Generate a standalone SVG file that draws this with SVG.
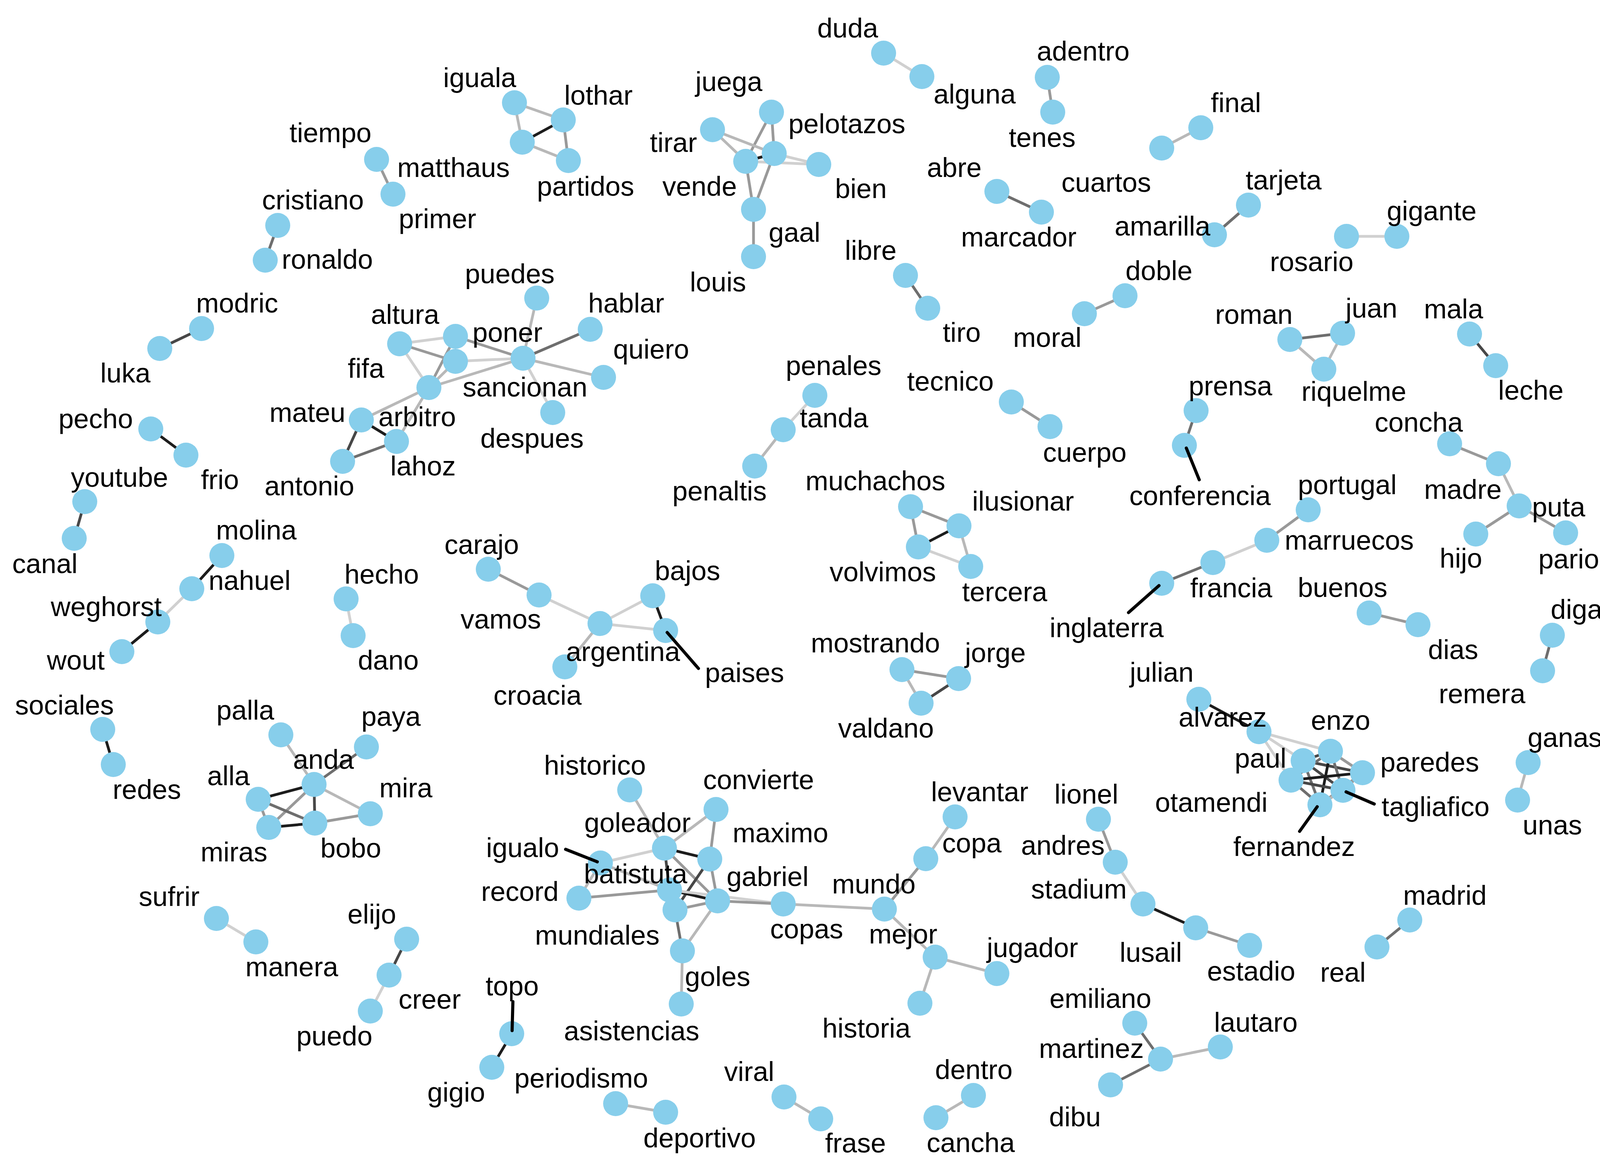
<svg xmlns="http://www.w3.org/2000/svg" width="4200" height="3000" viewBox="0 0 4200 3000">
<style>
.bg{fill:#ffffff}
line{stroke-width:7;stroke-linecap:butt}
.e1{stroke:#d0d0d0}.e2{stroke:#b8b8b8}.e3{stroke:#999999}.e4{stroke:#6e6e6e}.e5{stroke:#474747}.e6{stroke:#1c1c1c}
.ld{stroke:#000000;stroke-width:8;stroke-linecap:round}
circle{fill:#87CEEB}
text{font-family:"Liberation Sans",Arial,Helvetica,sans-serif;font-size:70px;fill:#000;text-anchor:middle}
</style>
<rect class="bg" x="0" y="0" width="4200" height="3000"/>
<g id="connectors">
<line class="e2" x1="1317" y1="263" x2="1442" y2="307"/>
<line class="e2" x1="1317" y1="263" x2="1337" y2="364"/>
<line class="e6" x1="1337" y1="364" x2="1442" y2="307"/>
<line class="e2" x1="1337" y1="364" x2="1455" y2="411"/>
<line class="e3" x1="1442" y1="307" x2="1455" y2="411"/>
<line class="e3" x1="964" y1="408" x2="1006" y2="497"/>
<line class="e4" x1="711" y1="577" x2="679" y2="666"/>
<line class="e5" x1="516" y1="841" x2="409" y2="892"/>
<line class="e3" x1="1975" y1="287" x2="1909" y2="413"/>
<line class="e3" x1="1975" y1="287" x2="1982" y2="393"/>
<line class="e2" x1="1824" y1="332" x2="1982" y2="393"/>
<line class="e2" x1="1824" y1="332" x2="1909" y2="413"/>
<line class="e6" x1="1909" y1="413" x2="1982" y2="393"/>
<line class="e1" x1="1909" y1="413" x2="2096" y2="421"/>
<line class="e1" x1="1982" y1="393" x2="2096" y2="421"/>
<line class="e3" x1="1909" y1="413" x2="1929" y2="536"/>
<line class="e3" x1="1982" y1="393" x2="1929" y2="536"/>
<line class="e3" x1="1929" y1="536" x2="1929" y2="657"/>
<line class="e1" x1="2262" y1="136" x2="2360" y2="196"/>
<line class="e3" x1="2681" y1="198" x2="2695" y2="287"/>
<line class="e4" x1="2552" y1="490" x2="2666" y2="543"/>
<line class="e2" x1="3074" y1="327" x2="2974" y2="379"/>
<line class="e4" x1="3196" y1="525" x2="3109" y2="601"/>
<line class="e1" x1="3447" y1="605" x2="3576" y2="605"/>
<line class="e3" x1="2880" y1="757" x2="2776" y2="803"/>
<line class="e4" x1="2318" y1="705" x2="2375" y2="789"/>
<line class="e4" x1="3302" y1="869" x2="3437" y2="853"/>
<line class="e2" x1="3302" y1="869" x2="3389" y2="945"/>
<line class="e2" x1="3437" y1="853" x2="3389" y2="945"/>
<line class="e5" x1="3762" y1="855" x2="3829" y2="936"/>
<line class="e2" x1="1374" y1="763" x2="1339" y2="917"/>
<line class="e4" x1="1511" y1="843" x2="1339" y2="917"/>
<line class="e2" x1="1545" y1="966" x2="1339" y2="917"/>
<line class="e1" x1="1415" y1="1056" x2="1339" y2="917"/>
<line class="e3" x1="1166" y1="861" x2="1339" y2="917"/>
<line class="e1" x1="1166" y1="925" x2="1339" y2="917"/>
<line class="e2" x1="1098" y1="992" x2="1339" y2="917"/>
<line class="e1" x1="1023" y1="880" x2="1166" y2="861"/>
<line class="e3" x1="1023" y1="880" x2="1166" y2="925"/>
<line class="e1" x1="1023" y1="880" x2="1098" y2="992"/>
<line class="e3" x1="1166" y1="861" x2="1098" y2="992"/>
<line class="e2" x1="1166" y1="925" x2="1098" y2="992"/>
<line class="e2" x1="1098" y1="992" x2="925" y2="1075"/>
<line class="e2" x1="1098" y1="992" x2="1015" y2="1130"/>
<line class="e6" x1="925" y1="1075" x2="1015" y2="1130"/>
<line class="e5" x1="925" y1="1075" x2="877" y2="1181"/>
<line class="e4" x1="877" y1="1181" x2="1015" y2="1130"/>
<line class="e1" x1="2086" y1="1012" x2="2005" y2="1100"/>
<line class="e2" x1="2005" y1="1100" x2="1932" y2="1193"/>
<line class="e3" x1="2589" y1="1029" x2="2688" y2="1092"/>
<line class="e4" x1="3062" y1="1051" x2="3032" y2="1140"/>
<line class="e3" x1="3711" y1="1136" x2="3836" y2="1187"/>
<line class="e2" x1="3836" y1="1187" x2="3889" y2="1295"/>
<line class="e3" x1="3889" y1="1295" x2="3778" y2="1367"/>
<line class="e3" x1="3889" y1="1295" x2="4008" y2="1364"/>
<line class="e6" x1="386" y1="1098" x2="476" y2="1165"/>
<line class="e5" x1="217" y1="1284" x2="190" y2="1378"/>
<line class="e6" x1="568" y1="1422" x2="491" y2="1507"/>
<line class="e1" x1="491" y1="1507" x2="404" y2="1592"/>
<line class="e6" x1="404" y1="1592" x2="312" y2="1668"/>
<line class="e1" x1="886" y1="1533" x2="904" y2="1627"/>
<line class="e3" x1="1250" y1="1457" x2="1380" y2="1523"/>
<line class="e1" x1="1380" y1="1523" x2="1536" y2="1596"/>
<line class="e1" x1="1536" y1="1596" x2="1671" y2="1525"/>
<line class="e1" x1="1536" y1="1596" x2="1704" y2="1614"/>
<line class="e6" x1="1671" y1="1525" x2="1704" y2="1614"/>
<line class="e2" x1="1536" y1="1596" x2="1446" y2="1707"/>
<line class="e3" x1="2331" y1="1297" x2="2455" y2="1346"/>
<line class="e3" x1="2331" y1="1297" x2="2351" y2="1400"/>
<line class="e6" x1="2351" y1="1400" x2="2455" y2="1346"/>
<line class="e2" x1="2455" y1="1346" x2="2485" y2="1450"/>
<line class="e1" x1="2351" y1="1400" x2="2485" y2="1450"/>
<line class="e3" x1="2309" y1="1714" x2="2454" y2="1737"/>
<line class="e2" x1="2309" y1="1714" x2="2358" y2="1800"/>
<line class="e5" x1="2454" y1="1737" x2="2358" y2="1800"/>
<line class="e3" x1="3349" y1="1305" x2="3243" y2="1383"/>
<line class="e1" x1="3243" y1="1383" x2="3105" y2="1440"/>
<line class="e4" x1="3105" y1="1440" x2="2974" y2="1493"/>
<line class="e3" x1="3505" y1="1569" x2="3630" y2="1599"/>
<line class="e4" x1="3974" y1="1626" x2="3949" y2="1717"/>
<line class="e6" x1="3069" y1="1790" x2="3223" y2="1873"/>
<line class="e1" x1="3223" y1="1873" x2="3406" y2="1923"/>
<line class="e1" x1="3223" y1="1873" x2="3336" y2="1947"/>
<line class="e1" x1="3223" y1="1873" x2="3305" y2="1997"/>
<line class="e5" x1="3336" y1="1947" x2="3406" y2="1923"/>
<line class="e5" x1="3336" y1="1947" x2="3488" y2="1978"/>
<line class="e5" x1="3336" y1="1947" x2="3438" y2="2023"/>
<line class="e4" x1="3336" y1="1947" x2="3379" y2="2060"/>
<line class="e4" x1="3336" y1="1947" x2="3305" y2="1997"/>
<line class="e3" x1="3406" y1="1923" x2="3488" y2="1978"/>
<line class="e4" x1="3406" y1="1923" x2="3438" y2="2023"/>
<line class="e6" x1="3406" y1="1923" x2="3379" y2="2060"/>
<line class="e4" x1="3406" y1="1923" x2="3305" y2="1997"/>
<line class="e6" x1="3305" y1="1997" x2="3488" y2="1978"/>
<line class="e5" x1="3305" y1="1997" x2="3438" y2="2023"/>
<line class="e4" x1="3305" y1="1997" x2="3379" y2="2060"/>
<line class="e3" x1="3488" y1="1978" x2="3438" y2="2023"/>
<line class="e3" x1="3488" y1="1978" x2="3379" y2="2060"/>
<line class="e2" x1="3438" y1="2023" x2="3379" y2="2060"/>
<line class="e2" x1="3912" y1="1952" x2="3885" y2="2048"/>
<line class="e6" x1="263" y1="1867" x2="290" y2="1957"/>
<line class="e2" x1="719" y1="1881" x2="804" y2="2008"/>
<line class="e4" x1="938" y1="1912" x2="804" y2="2008"/>
<line class="e6" x1="804" y1="2008" x2="661" y2="2046"/>
<line class="e3" x1="804" y1="2008" x2="688" y2="2118"/>
<line class="e5" x1="804" y1="2008" x2="806" y2="2107"/>
<line class="e2" x1="804" y1="2008" x2="948" y2="2083"/>
<line class="e3" x1="661" y1="2046" x2="688" y2="2118"/>
<line class="e4" x1="661" y1="2046" x2="806" y2="2107"/>
<line class="e6" x1="688" y1="2118" x2="806" y2="2107"/>
<line class="e3" x1="806" y1="2107" x2="948" y2="2083"/>
<line class="e1" x1="554" y1="2351" x2="655" y2="2411"/>
<line class="e5" x1="1041" y1="2404" x2="996" y2="2496"/>
<line class="e1" x1="996" y1="2496" x2="948" y2="2588"/>
<line class="e6" x1="1310" y1="2646" x2="1259" y2="2732"/>
<line class="e2" x1="1612" y1="2022" x2="1701" y2="2171"/>
<line class="e2" x1="1833" y1="2072" x2="1701" y2="2171"/>
<line class="e3" x1="1833" y1="2072" x2="1817" y2="2199"/>
<line class="e6" x1="1701" y1="2171" x2="1817" y2="2199"/>
<line class="e1" x1="1701" y1="2171" x2="1537" y2="2209"/>
<line class="e5" x1="1701" y1="2171" x2="1714" y2="2278"/>
<line class="e3" x1="1701" y1="2171" x2="1837" y2="2306"/>
<line class="e3" x1="1817" y1="2199" x2="1837" y2="2306"/>
<line class="e5" x1="1817" y1="2199" x2="1728" y2="2329"/>
<line class="e2" x1="1537" y1="2209" x2="1482" y2="2299"/>
<line class="e2" x1="1537" y1="2209" x2="1714" y2="2278"/>
<line class="e3" x1="1482" y1="2299" x2="1714" y2="2278"/>
<line class="e6" x1="1714" y1="2278" x2="1837" y2="2306"/>
<line class="e1" x1="1714" y1="2278" x2="2005" y2="2314"/>
<line class="e3" x1="1728" y1="2329" x2="1837" y2="2306"/>
<line class="e3" x1="1837" y1="2306" x2="2005" y2="2314"/>
<line class="e4" x1="1728" y1="2329" x2="1747" y2="2434"/>
<line class="e2" x1="1837" y1="2306" x2="1747" y2="2434"/>
<line class="e2" x1="1747" y1="2434" x2="1744" y2="2570"/>
<line class="e4" x1="1714" y1="2278" x2="1728" y2="2329"/>
<line class="e2" x1="2005" y1="2314" x2="2264" y2="2327"/>
<line class="e3" x1="2264" y1="2327" x2="2370" y2="2198"/>
<line class="e2" x1="2370" y1="2198" x2="2445" y2="2091"/>
<line class="e2" x1="2264" y1="2327" x2="2394" y2="2450"/>
<line class="e2" x1="2394" y1="2450" x2="2552" y2="2492"/>
<line class="e2" x1="2394" y1="2450" x2="2355" y2="2568"/>
<line class="e3" x1="2812" y1="2097" x2="2855" y2="2207"/>
<line class="e1" x1="2855" y1="2207" x2="2926" y2="2314"/>
<line class="e6" x1="2926" y1="2314" x2="3061" y2="2375"/>
<line class="e3" x1="3061" y1="2375" x2="3199" y2="2420"/>
<line class="e4" x1="3609" y1="2355" x2="3525" y2="2424"/>
<line class="e4" x1="2905" y1="2619" x2="2971" y2="2711"/>
<line class="e2" x1="2971" y1="2711" x2="3124" y2="2680"/>
<line class="e4" x1="2971" y1="2711" x2="2843" y2="2777"/>
<line class="e2" x1="1576" y1="2825" x2="1704" y2="2847"/>
<line class="e2" x1="2007" y1="2808" x2="2101" y2="2864"/>
<line class="e2" x1="2492" y1="2804" x2="2396" y2="2861"/>
</g>
<g id="nodes">
<g id="n-iguala"><circle cx="1317" cy="263" r="32"/><text x="1228" y="223">iguala</text></g>
<g id="n-lothar"><circle cx="1442" cy="307" r="32"/><text x="1532" y="268">lothar</text></g>
<g id="n-matthaus"><circle cx="1337" cy="364" r="32"/><text x="1161" y="453">matthaus</text></g>
<g id="n-partidos"><circle cx="1455" cy="411" r="32"/><text x="1499" y="501">partidos</text></g>
<g id="n-tiempo"><circle cx="964" cy="408" r="32"/><text x="846" y="364">tiempo</text></g>
<g id="n-primer"><circle cx="1006" cy="497" r="32"/><text x="1120" y="584">primer</text></g>
<g id="n-cristiano"><circle cx="711" cy="577" r="32"/><text x="801" y="536">cristiano</text></g>
<g id="n-ronaldo"><circle cx="679" cy="666" r="32"/><text x="838" y="688">ronaldo</text></g>
<g id="n-modric"><circle cx="516" cy="841" r="32"/><text x="607" y="800">modric</text></g>
<g id="n-luka"><circle cx="409" cy="892" r="32"/><text x="321" y="979">luka</text></g>
<g id="n-juega"><circle cx="1975" cy="287" r="32"/><text x="1866" y="233">juega</text></g>
<g id="n-tirar"><circle cx="1824" cy="332" r="32"/><text x="1724" y="389">tirar</text></g>
<g id="n-vende"><circle cx="1909" cy="413" r="32"/><text x="1791" y="501">vende</text></g>
<g id="n-pelotazos"><circle cx="1982" cy="393" r="32"/><text x="2168" y="341">pelotazos</text></g>
<g id="n-bien"><circle cx="2096" cy="421" r="32"/><text x="2204" y="507">bien</text></g>
<g id="n-gaal"><circle cx="1929" cy="536" r="32"/><text x="2034" y="619">gaal</text></g>
<g id="n-louis"><circle cx="1929" cy="657" r="32"/><text x="1838" y="746">louis</text></g>
<g id="n-duda"><circle cx="2262" cy="136" r="32"/><text x="2170" y="96">duda</text></g>
<g id="n-alguna"><circle cx="2360" cy="196" r="32"/><text x="2495" y="265">alguna</text></g>
<g id="n-adentro"><circle cx="2681" cy="198" r="32"/><text x="2773" y="155">adentro</text></g>
<g id="n-tenes"><circle cx="2695" cy="287" r="32"/><text x="2668" y="376">tenes</text></g>
<g id="n-abre"><circle cx="2552" cy="490" r="32"/><text x="2443" y="453">abre</text></g>
<g id="n-marcador"><circle cx="2666" cy="543" r="32"/><text x="2608" y="631">marcador</text></g>
<g id="n-final"><circle cx="3074" cy="327" r="32"/><text x="3164" y="287">final</text></g>
<g id="n-cuartos"><circle cx="2974" cy="379" r="32"/><text x="2832" y="491">cuartos</text></g>
<g id="n-tarjeta"><circle cx="3196" cy="525" r="32"/><text x="3286" y="485">tarjeta</text></g>
<g id="n-amarilla"><circle cx="3109" cy="601" r="32"/><text x="2976" y="603">amarilla</text></g>
<g id="n-rosario"><circle cx="3447" cy="605" r="32"/><text x="3358" y="694">rosario</text></g>
<g id="n-gigante"><circle cx="3576" cy="605" r="32"/><text x="3665" y="564">gigante</text></g>
<g id="n-doble"><circle cx="2880" cy="757" r="32"/><text x="2967" y="717">doble</text></g>
<g id="n-moral"><circle cx="2776" cy="803" r="32"/><text x="2681" y="888">moral</text></g>
<g id="n-libre"><circle cx="2318" cy="705" r="32"/><text x="2229" y="665">libre</text></g>
<g id="n-tiro"><circle cx="2375" cy="789" r="32"/><text x="2462" y="875">tiro</text></g>
<g id="n-roman"><circle cx="3302" cy="869" r="32"/><text x="3210" y="829">roman</text></g>
<g id="n-juan"><circle cx="3437" cy="853" r="32"/><text x="3511" y="813">juan</text></g>
<g id="n-riquelme"><circle cx="3389" cy="945" r="32"/><text x="3466" y="1026">riquelme</text></g>
<g id="n-mala"><circle cx="3762" cy="855" r="32"/><text x="3721" y="815">mala</text></g>
<g id="n-leche"><circle cx="3829" cy="936" r="32"/><text x="3919" y="1023">leche</text></g>
<g id="n-sancionan"><circle cx="1339" cy="917" r="32"/><text x="1344" y="1015">sancionan</text></g>
<g id="n-puedes"><circle cx="1374" cy="763" r="32"/><text x="1305" y="725">puedes</text></g>
<g id="n-hablar"><circle cx="1511" cy="843" r="32"/><text x="1603" y="800">hablar</text></g>
<g id="n-quiero"><circle cx="1545" cy="966" r="32"/><text x="1667" y="918">quiero</text></g>
<g id="n-despues"><circle cx="1415" cy="1056" r="32"/><text x="1362" y="1146">despues</text></g>
<g id="n-altura"><circle cx="1023" cy="880" r="32"/><text x="1037" y="829">altura</text></g>
<g id="n-poner"><circle cx="1166" cy="861" r="32"/><text x="1299" y="875">poner</text></g>
<g id="n-fifa"><circle cx="1166" cy="925" r="32"/><text x="937" y="967">fifa</text></g>
<g id="n-mateu"><circle cx="925" cy="1075" r="32"/><text x="787" y="1080">mateu</text></g>
<g id="n-arbitro"><circle cx="1098" cy="992" r="32"/><text x="1068" y="1091">arbitro</text></g>
<g id="n-lahoz"><circle cx="1015" cy="1130" r="32"/><text x="1083" y="1217">lahoz</text></g>
<g id="n-antonio"><circle cx="877" cy="1181" r="32"/><text x="792" y="1268">antonio</text></g>
<g id="n-penales"><circle cx="2086" cy="1012" r="32"/><text x="2134" y="960">penales</text></g>
<g id="n-tanda"><circle cx="2005" cy="1100" r="32"/><text x="2135" y="1094">tanda</text></g>
<g id="n-penaltis"><circle cx="1932" cy="1193" r="32"/><text x="1842" y="1281">penaltis</text></g>
<g id="n-tecnico"><circle cx="2589" cy="1029" r="32"/><text x="2433" y="1000">tecnico</text></g>
<g id="n-cuerpo"><circle cx="2688" cy="1092" r="32"/><text x="2777" y="1182">cuerpo</text></g>
<g id="n-prensa"><circle cx="3062" cy="1051" r="32"/><text x="3150" y="1012">prensa</text></g>
<g id="n-conferencia"><circle cx="3032" cy="1140" r="32"/><line class="ld" x1="3037" y1="1147" x2="3070" y2="1228"/><text x="3072" y="1293">conferencia</text></g>
<g id="n-concha"><circle cx="3711" cy="1136" r="32"/><text x="3632" y="1105">concha</text></g>
<g id="n-madre"><circle cx="3836" cy="1187" r="32"/><text x="3745" y="1277">madre</text></g>
<g id="n-puta"><circle cx="3889" cy="1295" r="32"/><text x="3990" y="1322">puta</text></g>
<g id="n-hijo"><circle cx="3778" cy="1367" r="32"/><text x="3740" y="1453">hijo</text></g>
<g id="n-pario"><circle cx="4008" cy="1364" r="32"/><text x="4016" y="1455">pario</text></g>
<g id="n-pecho"><circle cx="386" cy="1098" r="32"/><text x="245" y="1096">pecho</text></g>
<g id="n-frio"><circle cx="476" cy="1165" r="32"/><text x="563" y="1252">frio</text></g>
<g id="n-youtube"><circle cx="217" cy="1284" r="32"/><text x="306" y="1246">youtube</text></g>
<g id="n-canal"><circle cx="190" cy="1378" r="32"/><text x="115" y="1467">canal</text></g>
<g id="n-molina"><circle cx="568" cy="1422" r="32"/><text x="656" y="1381">molina</text></g>
<g id="n-nahuel"><circle cx="491" cy="1507" r="32"/><text x="639" y="1510">nahuel</text></g>
<g id="n-weghorst"><circle cx="404" cy="1592" r="32"/><text x="272" y="1577">weghorst</text></g>
<g id="n-wout"><circle cx="312" cy="1668" r="32"/><text x="194" y="1714">wout</text></g>
<g id="n-hecho"><circle cx="886" cy="1533" r="32"/><text x="977" y="1494">hecho</text></g>
<g id="n-dano"><circle cx="904" cy="1627" r="32"/><text x="994" y="1714">dano</text></g>
<g id="n-carajo"><circle cx="1250" cy="1457" r="32"/><text x="1233" y="1418">carajo</text></g>
<g id="n-vamos"><circle cx="1380" cy="1523" r="32"/><text x="1282" y="1609">vamos</text></g>
<g id="n-croacia"><circle cx="1446" cy="1707" r="32"/><text x="1376" y="1804">croacia</text></g>
<g id="n-bajos"><circle cx="1671" cy="1525" r="32"/><text x="1760" y="1485">bajos</text></g>
<g id="n-argentina"><circle cx="1536" cy="1596" r="32"/><text x="1595" y="1692">argentina</text></g>
<g id="n-paises"><circle cx="1704" cy="1614" r="32"/><line class="ld" x1="1708" y1="1619" x2="1788" y2="1711"/><text x="1906" y="1746">paises</text></g>
<g id="n-muchachos"><circle cx="2331" cy="1297" r="32"/><text x="2241" y="1255">muchachos</text></g>
<g id="n-ilusionar"><circle cx="2455" cy="1346" r="32"/><text x="2619" y="1307">ilusionar</text></g>
<g id="n-volvimos"><circle cx="2351" cy="1400" r="32"/><text x="2260" y="1488">volvimos</text></g>
<g id="n-tercera"><circle cx="2485" cy="1450" r="32"/><text x="2572" y="1539">tercera</text></g>
<g id="n-mostrando"><circle cx="2309" cy="1714" r="32"/><text x="2241" y="1670">mostrando</text></g>
<g id="n-jorge"><circle cx="2454" cy="1737" r="32"/><text x="2548" y="1695">jorge</text></g>
<g id="n-valdano"><circle cx="2358" cy="1800" r="32"/><text x="2268" y="1888">valdano</text></g>
<g id="n-portugal"><circle cx="3349" cy="1305" r="32"/><text x="3449" y="1265">portugal</text></g>
<g id="n-marruecos"><circle cx="3243" cy="1383" r="32"/><text x="3454" y="1407">marruecos</text></g>
<g id="n-francia"><circle cx="3105" cy="1440" r="32"/><text x="3152" y="1529">francia</text></g>
<g id="n-inglaterra"><circle cx="2974" cy="1493" r="32"/><line class="ld" x1="2967" y1="1499" x2="2889" y2="1568"/><text x="2833" y="1631">inglaterra</text></g>
<g id="n-buenos"><circle cx="3505" cy="1569" r="32"/><text x="3437" y="1528">buenos</text></g>
<g id="n-dias"><circle cx="3630" cy="1599" r="32"/><text x="3720" y="1687">dias</text></g>
<g id="n-diga"><circle cx="3974" cy="1626" r="32"/><text x="4036" y="1584">diga</text></g>
<g id="n-remera"><circle cx="3949" cy="1717" r="32"/><text x="3794" y="1800">remera</text></g>
<g id="n-julian"><circle cx="3069" cy="1790" r="32"/><text x="2974" y="1745">julian</text></g>
<g id="n-otamendi"><circle cx="3305" cy="1997" r="32"/><text x="3101" y="2078">otamendi</text></g>
<g id="n-alvarez"><circle cx="3223" cy="1873" r="32"/><text x="3130" y="1860">alvarez</text></g>
<g id="n-enzo"><circle cx="3406" cy="1923" r="32"/><text x="3432" y="1868">enzo</text></g>
<g id="n-paul"><circle cx="3336" cy="1947" r="32"/><text x="3227" y="1965">paul</text></g>
<g id="n-paredes"><circle cx="3488" cy="1978" r="32"/><text x="3660" y="1975">paredes</text></g>
<g id="n-tagliafico"><circle cx="3438" cy="2023" r="32"/><line class="ld" x1="3446" y1="2027" x2="3518" y2="2058"/><text x="3675" y="2089">tagliafico</text></g>
<g id="n-fernandez"><circle cx="3379" cy="2060" r="32"/><line class="ld" x1="3372" y1="2065" x2="3327" y2="2128"/><text x="3313" y="2191">fernandez</text></g>
<g id="n-ganas"><circle cx="3912" cy="1952" r="32"/><text x="4006" y="1912">ganas</text></g>
<g id="n-unas"><circle cx="3885" cy="2048" r="32"/><text x="3974" y="2136">unas</text></g>
<g id="n-sociales"><circle cx="263" cy="1867" r="32"/><text x="165" y="1829">sociales</text></g>
<g id="n-redes"><circle cx="290" cy="1957" r="32"/><text x="376" y="2045">redes</text></g>
<g id="n-palla"><circle cx="719" cy="1881" r="32"/><text x="628" y="1842">palla</text></g>
<g id="n-paya"><circle cx="938" cy="1912" r="32"/><text x="1001" y="1858">paya</text></g>
<g id="n-alla"><circle cx="661" cy="2046" r="32"/><text x="585" y="2010">alla</text></g>
<g id="n-anda"><circle cx="804" cy="2008" r="32"/><text x="828" y="1968">anda</text></g>
<g id="n-mira"><circle cx="948" cy="2083" r="32"/><text x="1039" y="2041">mira</text></g>
<g id="n-miras"><circle cx="688" cy="2118" r="32"/><text x="599" y="2205">miras</text></g>
<g id="n-bobo"><circle cx="806" cy="2107" r="32"/><text x="898" y="2195">bobo</text></g>
<g id="n-sufrir"><circle cx="554" cy="2351" r="32"/><text x="433" y="2319">sufrir</text></g>
<g id="n-manera"><circle cx="655" cy="2411" r="32"/><text x="747" y="2499">manera</text></g>
<g id="n-elijo"><circle cx="1041" cy="2404" r="32"/><text x="952" y="2364">elijo</text></g>
<g id="n-creer"><circle cx="996" cy="2496" r="32"/><text x="1100" y="2582">creer</text></g>
<g id="n-puedo"><circle cx="948" cy="2588" r="32"/><text x="856" y="2676">puedo</text></g>
<g id="n-topo"><circle cx="1310" cy="2646" r="32"/><line class="ld" x1="1311" y1="2638" x2="1313" y2="2564"/><text x="1311" y="2548">topo</text></g>
<g id="n-gigio"><circle cx="1259" cy="2732" r="32"/><text x="1168" y="2820">gigio</text></g>
<g id="n-historico"><circle cx="1612" cy="2022" r="32"/><text x="1523" y="1983">historico</text></g>
<g id="n-convierte"><circle cx="1833" cy="2072" r="32"/><text x="1942" y="2020">convierte</text></g>
<g id="n-record"><circle cx="1482" cy="2299" r="32"/><text x="1331" y="2306">record</text></g>
<g id="n-igualo"><circle cx="1537" cy="2209" r="32"/><line class="ld" x1="1448" y1="2174" x2="1529" y2="2206"/><text x="1338" y="2194">igualo</text></g>
<g id="n-goleador"><circle cx="1701" cy="2171" r="32"/><text x="1632" y="2130">goleador</text></g>
<g id="n-maximo"><circle cx="1817" cy="2199" r="32"/><text x="1998" y="2156">maximo</text></g>
<g id="n-mundiales"><circle cx="1728" cy="2329" r="32"/><text x="1529" y="2418">mundiales</text></g>
<g id="n-batistuta"><circle cx="1714" cy="2278" r="32"/><text x="1627" y="2261">batistuta</text></g>
<g id="n-gabriel"><circle cx="1837" cy="2306" r="32"/><text x="1965" y="2268">gabriel</text></g>
<g id="n-copas"><circle cx="2005" cy="2314" r="32"/><text x="2065" y="2402">copas</text></g>
<g id="n-goles"><circle cx="1747" cy="2434" r="32"/><text x="1837" y="2524">goles</text></g>
<g id="n-asistencias"><circle cx="1744" cy="2570" r="32"/><text x="1617" y="2663">asistencias</text></g>
<g id="n-mundo"><circle cx="2264" cy="2327" r="32"/><text x="2237" y="2287">mundo</text></g>
<g id="n-copa"><circle cx="2370" cy="2198" r="32"/><text x="2488" y="2182">copa</text></g>
<g id="n-levantar"><circle cx="2445" cy="2091" r="32"/><text x="2508" y="2051">levantar</text></g>
<g id="n-mejor"><circle cx="2394" cy="2450" r="32"/><text x="2312" y="2415">mejor</text></g>
<g id="n-jugador"><circle cx="2552" cy="2492" r="32"/><text x="2643" y="2450">jugador</text></g>
<g id="n-historia"><circle cx="2355" cy="2568" r="32"/><text x="2218" y="2656">historia</text></g>
<g id="n-lionel"><circle cx="2812" cy="2097" r="32"/><text x="2781" y="2057">lionel</text></g>
<g id="n-andres"><circle cx="2855" cy="2207" r="32"/><text x="2721" y="2188">andres</text></g>
<g id="n-stadium"><circle cx="2926" cy="2314" r="32"/><text x="2762" y="2300">stadium</text></g>
<g id="n-lusail"><circle cx="3061" cy="2375" r="32"/><text x="2946" y="2462">lusail</text></g>
<g id="n-estadio"><circle cx="3199" cy="2420" r="32"/><text x="3203" y="2510">estadio</text></g>
<g id="n-madrid"><circle cx="3609" cy="2355" r="32"/><text x="3699" y="2316">madrid</text></g>
<g id="n-real"><circle cx="3525" cy="2424" r="32"/><text x="3438" y="2513">real</text></g>
<g id="n-emiliano"><circle cx="2905" cy="2619" r="32"/><text x="2817" y="2580">emiliano</text></g>
<g id="n-martinez"><circle cx="2971" cy="2711" r="32"/><text x="2794" y="2708">martinez</text></g>
<g id="n-lautaro"><circle cx="3124" cy="2680" r="32"/><text x="3215" y="2641">lautaro</text></g>
<g id="n-dibu"><circle cx="2843" cy="2777" r="32"/><text x="2752" y="2883">dibu</text></g>
<g id="n-periodismo"><circle cx="1576" cy="2825" r="32"/><text x="1488" y="2784">periodismo</text></g>
<g id="n-deportivo"><circle cx="1704" cy="2847" r="32"/><text x="1791" y="2937">deportivo</text></g>
<g id="n-viral"><circle cx="2007" cy="2808" r="32"/><text x="1918" y="2767">viral</text></g>
<g id="n-frase"><circle cx="2101" cy="2864" r="32"/><text x="2190" y="2950">frase</text></g>
<g id="n-dentro"><circle cx="2492" cy="2804" r="32"/><text x="2493" y="2762">dentro</text></g>
<g id="n-cancha"><circle cx="2396" cy="2861" r="32"/><text x="2485" y="2949">cancha</text></g>
</g>
</svg>
